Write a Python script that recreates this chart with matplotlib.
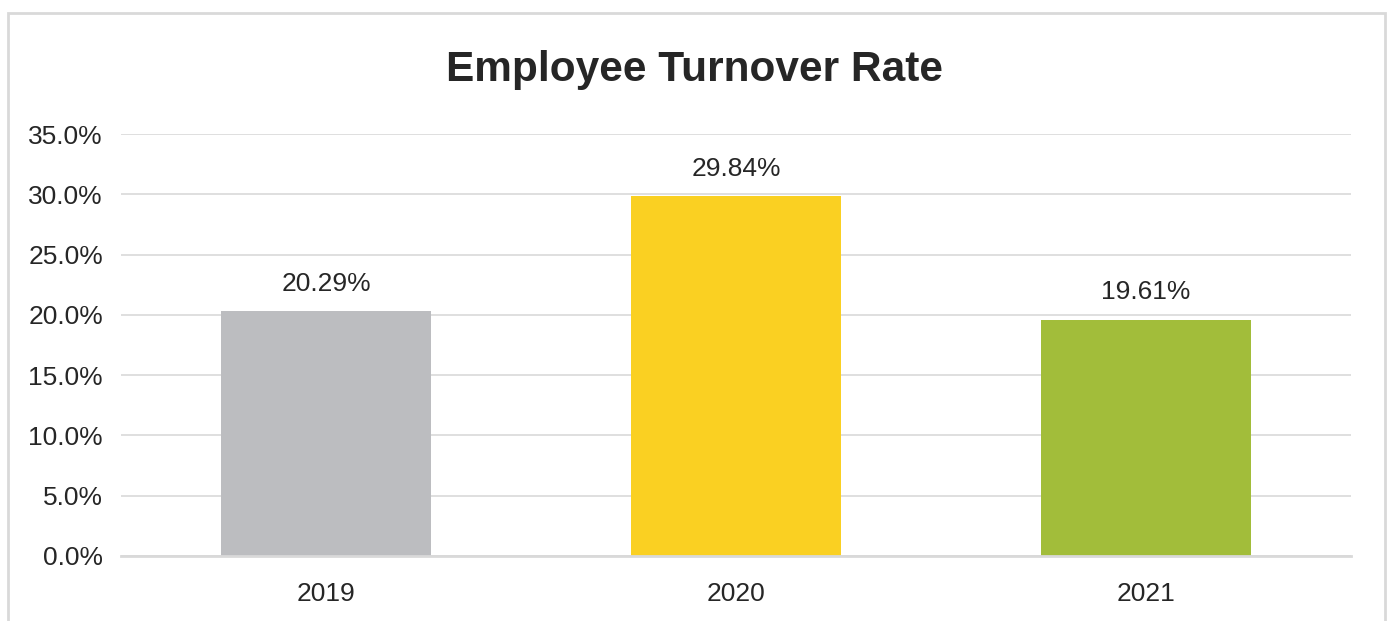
import matplotlib.pyplot as plt
from matplotlib.patches import Rectangle
from matplotlib.ticker import FuncFormatter

years = ["2019", "2020", "2021"]
rates = [20.29, 29.84, 19.61]
colors = ["#BCBDC0", "#FAD022", "#A2BD3A"]

plt.rcParams["font.family"] = ["Liberation Sans", "DejaVu Sans"]
text_color = "#262626"
grid_color = "#D9D9D9"

fig = plt.figure(figsize=(13.89, 6.21), dpi=100)
ax = fig.add_axes([0.0871, 0.1047, 0.8855, 0.6795])

# outer chart frame (bottom edge runs off the canvas)
fig.patches.append(Rectangle((8 / 1389, -0.05), 1377 / 1389, 1.05 - 13 / 621,
                             transform=fig.transFigure, fill=False,
                             edgecolor=grid_color, linewidth=2))

x = range(len(years))
bars = ax.bar(x, rates, width=0.512, color=colors, zorder=2)

for xi, v in zip(x, rates):
    ax.annotate("{:.2f}%".format(v), (xi, v), xytext=(0, 11),
                textcoords="offset points", ha="center", va="bottom",
                fontsize=19, color=text_color)

ax.set_xlim(-0.5, 2.5)
ax.set_ylim(0, 35)
ax.set_yticks([0, 5, 10, 15, 20, 25, 30, 35])
ax.yaxis.set_major_formatter(FuncFormatter(lambda v, p: "{:.1f}%".format(v)))
ax.set_xticks(list(x))
ax.set_xticklabels(years)
ax.tick_params(axis="both", length=0, labelsize=19, labelcolor=text_color)
ax.tick_params(axis="y", pad=13)
ax.tick_params(axis="x", pad=19)

ax.grid(axis="y", color=grid_color, linewidth=1.2, zorder=0)
for s in ["top", "right", "left"]:
    ax.spines[s].set_visible(False)
ax.spines["bottom"].set_color(grid_color)
ax.spines["bottom"].set_linewidth(2)
ax.spines["bottom"].set_zorder(3)

fig.text(0.5, 0.888, "Employee Turnover Rate", ha="center", va="center",
         fontsize=30.5, fontweight="bold", color=text_color)

fig.savefig("out.png", dpi=100)
